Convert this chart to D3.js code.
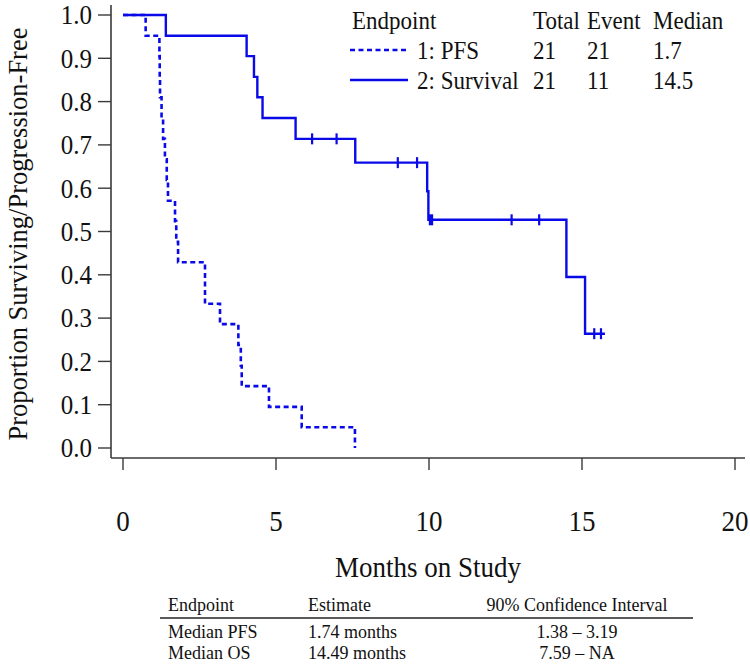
<!DOCTYPE html>
<html>
<head>
<meta charset="utf-8">
<script src="https://cdn.jsdelivr.net/npm/d3@7/dist/d3.min.js"></script>
<style>
  html, body { margin: 0; padding: 0; background: #fff; }
  svg text { font-family: "Liberation Serif", "Times New Roman", serif; fill: #111; }
</style>
</head>
<body>
<svg id="chart" width="750" height="664"></svg>
<script>
// ---- data ----
const pfsTime = [0, 0.74, 1.19, 1.20, 1.21, 1.26, 1.31, 1.37, 1.43, 1.47, 1.70, 1.74, 1.80, 2.68, 3.17, 3.77, 3.85, 3.88, 4.77, 5.84, 7.58];
const pfsSurv = [1.0, 0.952, 0.905, 0.857, 0.810, 0.762, 0.714, 0.667, 0.619, 0.571, 0.524, 0.476, 0.429, 0.333, 0.286, 0.238, 0.190, 0.143, 0.095, 0.048, 0.0];

const osTime = [0, 1.40, 4.04, 4.28, 4.39, 4.56, 5.64, 7.59, 9.94, 9.98, 14.49, 15.10, 15.75];
const osSurv = [1.0, 0.952, 0.905, 0.857, 0.810, 0.762, 0.714, 0.659, 0.593, 0.527, 0.395, 0.264, 0.264];
const osCensorTime = [6.18, 6.98, 8.98, 9.61, 10.03, 10.10, 12.70, 13.60, 15.40, 15.62];

const xTicks = [0, 5, 10, 15, 20];
const yTicks = [0, 0.1, 0.2, 0.3, 0.4, 0.5, 0.6, 0.7, 0.8, 0.9, 1.0];

const legendHeader = ["Endpoint", "Total", "Event", "Median"];
const legendNames = ["1: PFS", "2: Survival"];
const legendTotal = ["21", "21"];
const legendEvent = ["21", "11"];
const legendMedian = ["1.7", "14.5"];
const legendDash = [true, false];

const tableHeader = ["Endpoint", "Estimate", "90% Confidence Interval"];
const tableEndpoint = ["Median PFS", "Median OS"];
const tableEstimate = ["1.74 months", "14.49 months"];
const tableCI = ["1.38 \u2013 3.19", "7.59 \u2013 NA"];

// ---- layout ----
const svg = d3.select("#chart");
const blue = "#0a0ae8";
const axisCol = "#3a3a3a";
const x = d3.scaleLinear().domain([0, 20]).range([123, 735]);
const y = d3.scaleLinear().domain([0, 1]).range([448, 15]);
const axisX0 = 111, axisY0 = 458;

// text helper with slight vertical stretch (reference glyphs are tall/narrow)
function txt(g, tx, ty, str, size, anchor, sy) {
  return g.append("text")
    .attr("transform", `translate(${tx},${ty}) scale(1,${sy || 1.12})`)
    .attr("text-anchor", anchor || "start")
    .attr("font-size", size)
    .text(str);
}

// axes lines
svg.append("line").attr("x1", axisX0).attr("x2", axisX0).attr("y1", 5).attr("y2", axisY0)
  .attr("stroke", axisCol).attr("stroke-width", 1.6);
svg.append("line").attr("x1", axisX0).attr("x2", 745).attr("y1", axisY0).attr("y2", axisY0)
  .attr("stroke", axisCol).attr("stroke-width", 1.6);

// y ticks
const yg = svg.append("g");
yTicks.forEach(t => {
  yg.append("line").attr("x1", 98).attr("x2", axisX0).attr("y1", y(t)).attr("y2", y(t))
    .attr("stroke", axisCol).attr("stroke-width", 1.4);
  txt(yg, 92, y(t) + 9.3, d3.format(".1f")(t), 25, "end", 1.1);
});
// x ticks
const xg = svg.append("g");
xTicks.forEach(t => {
  xg.append("line").attr("x1", x(t)).attr("x2", x(t)).attr("y1", axisY0).attr("y2", 470)
    .attr("stroke", axisCol).attr("stroke-width", 1.4);
  txt(xg, x(t), 531, t, 27, "middle", 1.12);
});

// axis titles
txt(svg, 428, 577, "Months on Study", 27, "middle", 1.12);
svg.append("text").attr("transform", "translate(27,234) rotate(-90)").attr("text-anchor", "middle")
  .attr("font-size", 26.5).text("Proportion Surviving/Progression-Free");

// curves
const line = d3.line().x(d => x(d[0])).y(d => y(d[1])).curve(d3.curveStepAfter);
const pfsData = pfsTime.map((t, i) => [t, pfsSurv[i]]);
const osData = osTime.map((t, i) => [t, osSurv[i]]);

svg.append("path").attr("d", line(pfsData)).attr("fill", "none")
  .attr("stroke", blue).attr("stroke-width", 2.6).attr("stroke-dasharray", "5,3.5");
svg.append("path").attr("d", line(osData)).attr("fill", "none")
  .attr("stroke", blue).attr("stroke-width", 2.4);

// censor marks
function osAt(t) {
  const i = d3.bisectRight(osTime, t) - 1;
  return osSurv[Math.max(0, i)];
}
svg.append("g").selectAll("line").data(osCensorTime).join("line")
  .attr("x1", d => x(d)).attr("x2", d => x(d))
  .attr("y1", d => y(osAt(d)) - 5.5).attr("y2", d => y(osAt(d)) + 5.5)
  .attr("stroke", blue).attr("stroke-width", 2.2);

// legend
const lg = svg.append("g");
const colX = [352, 533, 587, 653];
const rowY = [28.5, 58.5, 88.5];
const lfs = 23;
legendHeader.forEach((h, i) => txt(lg, colX[i], rowY[0], h, lfs));
legendNames.forEach((n, i) => {
  const ry = rowY[i + 1];
  lg.append("line").attr("x1", 350).attr("x2", 408).attr("y1", ry - 8.5).attr("y2", ry - 8.5)
    .attr("stroke", blue).attr("stroke-width", 2.4)
    .attr("stroke-dasharray", legendDash[i] ? "5,3.5" : null);
  txt(lg, 417, ry, n, lfs);
  txt(lg, colX[1], ry, legendTotal[i], lfs);
  txt(lg, colX[2], ry, legendEvent[i], lfs);
  txt(lg, colX[3], ry, legendMedian[i], lfs);
});

// table
const tg = svg.append("g");
const tColX = [168, 308];
const tfs = 18;
txt(tg, tColX[0], 611, tableHeader[0], tfs, "start", 1);
txt(tg, tColX[1], 611, tableHeader[1], tfs, "start", 1);
txt(tg, 577, 611, tableHeader[2], tfs, "middle", 1);
tg.append("line").attr("x1", 160).attr("x2", 693).attr("y1", 618).attr("y2", 618)
  .attr("stroke", "#222").attr("stroke-width", 1.3);
tableEndpoint.forEach((e, i) => {
  const ry = 638 + i * 20.5;
  txt(tg, tColX[0], ry, e, tfs, "start", 1);
  txt(tg, tColX[1], ry, tableEstimate[i], tfs, "start", 1);
  txt(tg, 577, ry, tableCI[i], tfs, "middle", 1);
});
</script>
</body>
</html>
